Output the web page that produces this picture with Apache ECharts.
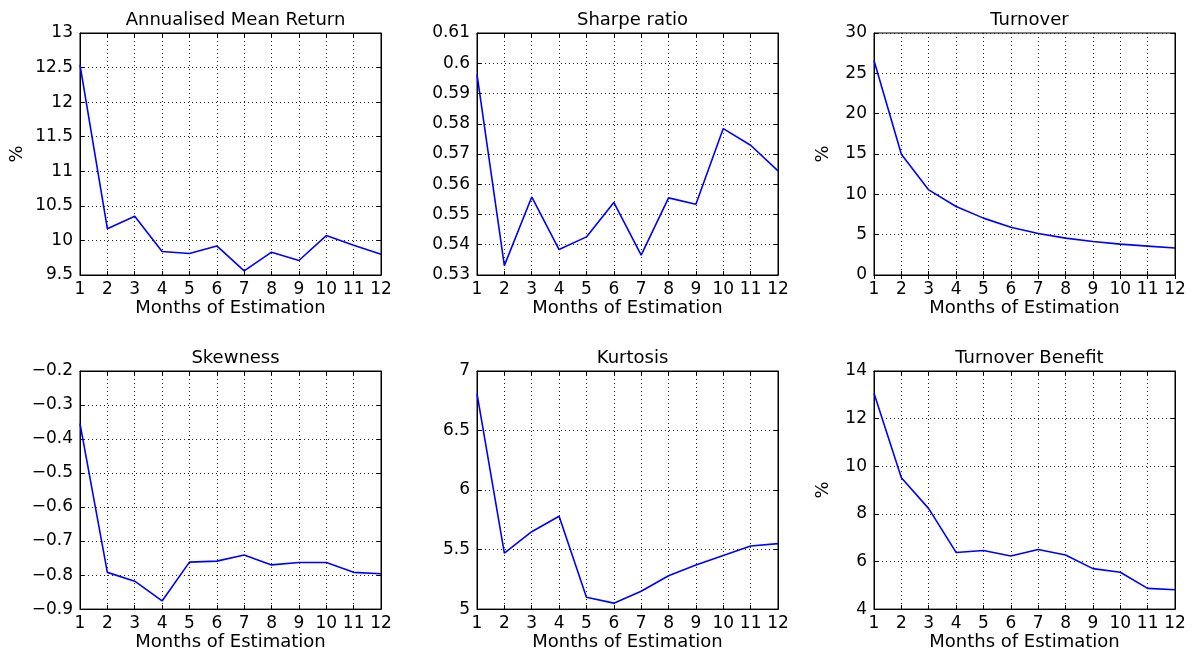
<!DOCTYPE html>
<html>
<head>
<meta charset="utf-8">
<script src="https://cdn.jsdelivr.net/npm/echarts@6/dist/echarts.min.js"></script>
<style>
  html, body { margin: 0; padding: 0; background: #fff; }
  #chart { width: 1197px; height: 652px; }
</style>
</head>
<body>
<div id="chart"></div>
<script>
// months of estimation (x categories)
const months = ['1', '2', '3', '4', '5', '6', '7', '8', '9', '10', '11', '12'];

// values
const meanReturn = [12.54, 10.17, 10.35, 9.84, 9.81, 9.92, 9.56, 9.83, 9.71, 10.07, 9.93, 9.80];
const sharpe = [0.5963, 0.5331, 0.5558, 0.5384, 0.5426, 0.5540, 0.5366, 0.5555, 0.5534, 0.5784, 0.5729, 0.5644];
const turnover = [26.58, 14.96, 10.55, 8.49, 7.05, 5.93, 5.15, 4.57, 4.16, 3.83, 3.58, 3.34];
const skewness = [-0.355, -0.792, -0.818, -0.876, -0.762, -0.759, -0.741, -0.770, -0.763, -0.763, -0.792, -0.796];
const kurtosis = [6.81, 5.47, 5.65, 5.78, 5.10, 5.05, 5.15, 5.28, 5.37, 5.45, 5.53, 5.55];
const turnoverBenefit = [13.07, 9.52, 8.22, 6.38, 6.46, 6.23, 6.50, 6.27, 5.70, 5.55, 4.87, 4.81];

const titles = ['Annualised Mean Return', 'Sharpe ratio', 'Turnover', 'Skewness', 'Kurtosis', 'Turnover Benefit'];

const panels = [
  { data: meanReturn, min: 9.5, max: 13, interval: 0.5, unit: '%', left: 80, top: 33, nameGap: 54 },
  { data: sharpe, min: 0.53, max: 0.61, interval: 0.01, unit: '', left: 477, top: 33 },
  { data: turnover, min: 0, max: 30, interval: 5, unit: '%', left: 874, top: 33, nameGap: 42 },
  { data: skewness, min: -0.9, max: -0.2, interval: 0.1, unit: '', left: 80, top: 371 },
  { data: kurtosis, min: 5, max: 7, interval: 0.5, unit: '', left: 477, top: 371 },
  { data: turnoverBenefit, min: 4, max: 14, interval: 2, unit: '%', left: 874, top: 371, nameGap: 42 }
];

const W = 301, H = 242;
const font = 'DejaVu Sans';
const gridLine = { show: true, interval: 0, lineStyle: { color: '#222', type: [1, 3], width: 1 } };
const blackLine = { lineStyle: { color: '#000', width: 1 } };
const tick = { show: true, inside: true, length: 4, interval: 0, lineStyle: { color: '#000' } };

let grid = [], xAxis = [], yAxis = [], series = [], title = [];

panels.forEach((p, i) => {
  grid.push({ left: p.left, top: p.top, width: W, height: H, show: true, borderColor: '#000', borderWidth: 1 });
  title.push({
    text: titles[i],
    left: p.left + W / 2,
    top: p.top - 27,
    textAlign: 'center',
    textStyle: { fontFamily: font, fontSize: 18, fontWeight: 'normal', color: '#000' }
  });
  // bottom axis with labels
  xAxis.push({
    gridIndex: i, type: 'category', data: months, boundaryGap: false, position: 'bottom',
    axisLine: blackLine, axisTick: tick,
    axisLabel: { color: '#000', fontFamily: font, fontSize: 17, margin: 6, interval: 0, hideOverlap: false },
    splitLine: gridLine,
    name: 'Months of Estimation', nameLocation: 'middle', nameGap: 22,
    nameTextStyle: { color: '#000', fontFamily: font, fontSize: 18 }
  });
  // top axis, ticks only
  xAxis.push({
    gridIndex: i, type: 'category', data: months, boundaryGap: false, position: 'top',
    axisLine: blackLine, axisTick: tick,
    axisLabel: { show: false }, splitLine: { show: false }
  });
  yAxis.push({
    gridIndex: i, type: 'value', min: p.min, max: p.max, interval: p.interval, position: 'left',
    axisLine: { show: true, lineStyle: { color: '#000', width: 1 } },
    axisTick: tick,
    axisLabel: {
      color: '#000', fontFamily: font, fontSize: 17, margin: 7,
      formatter: v => String(+v.toFixed(4)).replace('-', '\u2212')
    },
    splitLine: gridLine,
    name: p.unit, nameLocation: 'middle', nameGap: p.nameGap || 40, nameRotate: 90,
    nameTextStyle: { color: '#000', fontFamily: font, fontSize: 18 }
  });
  yAxis.push({
    gridIndex: i, type: 'value', min: p.min, max: p.max, interval: p.interval, position: 'right',
    axisLine: { show: true, lineStyle: { color: '#000', width: 1 } },
    axisTick: tick,
    axisLabel: { show: false }, splitLine: { show: false }
  });
  series.push({
    type: 'line', xAxisIndex: i * 2, yAxisIndex: i * 2, data: p.data,
    showSymbol: false, animation: false,
    lineStyle: { color: '#0000ff', width: 1.6 }
  });
});

const chart = echarts.init(document.getElementById('chart'));
chart.setOption({ animation: false, backgroundColor: '#fff', title, grid, xAxis, yAxis, series });
</script>
</body>
</html>
